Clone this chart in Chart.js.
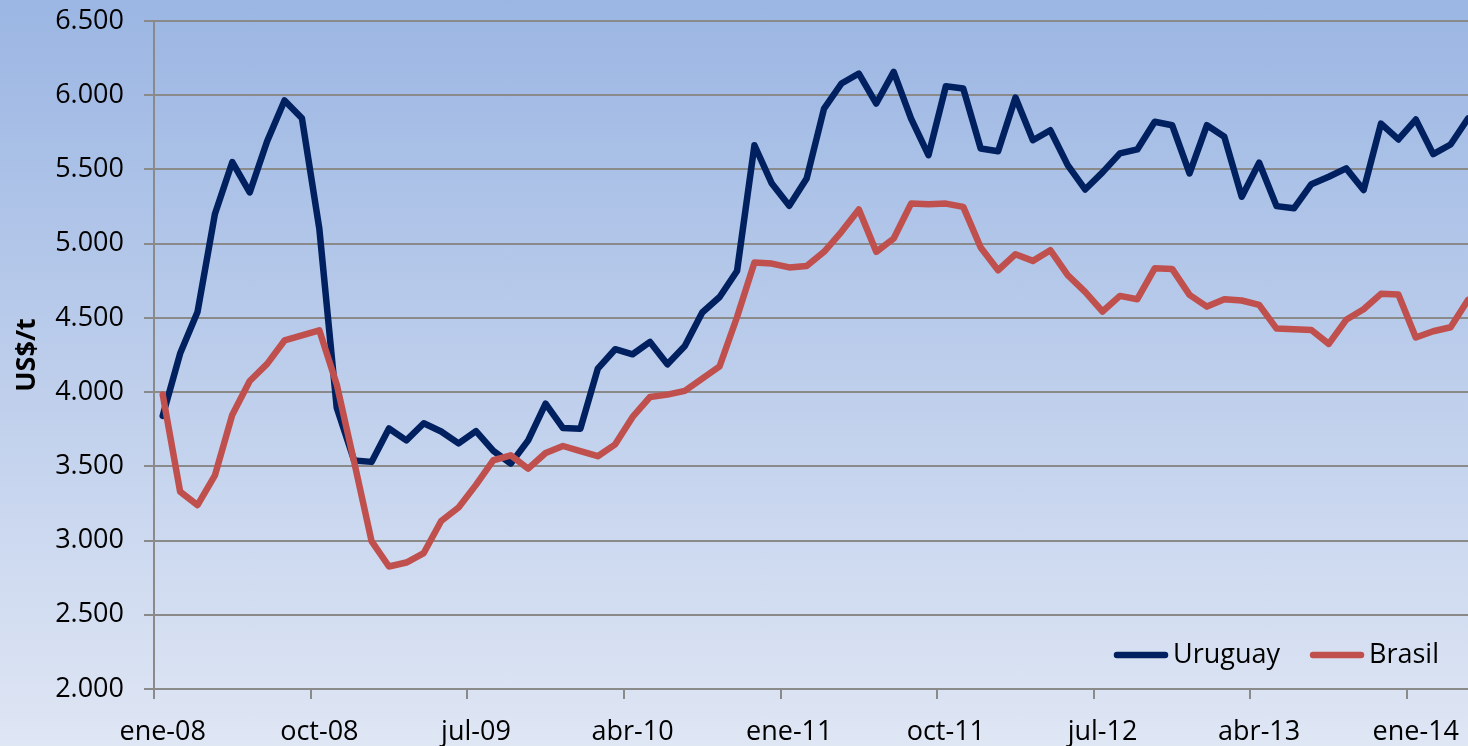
<!DOCTYPE html>
<html>
<head>
<meta charset="utf-8">
<script src="https://cdn.jsdelivr.net/npm/chart.js@4.4.1/dist/chart.umd.min.js"></script>
<style>
  html, body { margin: 0; padding: 0; overflow: hidden; }
  body { width: 1468px; height: 746px; background: linear-gradient(to bottom, #9bb6e3 0%, #dfe6f4 100%); }
  canvas { display: block; }
</style>
</head>
<body>
<canvas id="myChart" width="1468" height="746"></canvas>
<script>
// monthly categories, ene-08 .. abr-14
const months = [
  'ene-08','feb-08','mar-08','abr-08','may-08','jun-08','jul-08','ago-08','sep-08','oct-08','nov-08','dic-08',
  'ene-09','feb-09','mar-09','abr-09','may-09','jun-09','jul-09','ago-09','sep-09','oct-09','nov-09','dic-09',
  'ene-10','feb-10','mar-10','abr-10','may-10','jun-10','jul-10','ago-10','sep-10','oct-10','nov-10','dic-10',
  'ene-11','feb-11','mar-11','abr-11','may-11','jun-11','jul-11','ago-11','sep-11','oct-11','nov-11','dic-11',
  'ene-12','feb-12','mar-12','abr-12','may-12','jun-12','jul-12','ago-12','sep-12','oct-12','nov-12','dic-12',
  'ene-13','feb-13','mar-13','abr-13','may-13','jun-13','jul-13','ago-13','sep-13','oct-13','nov-13','dic-13',
  'ene-14','feb-14','mar-14','abr-14'
]

const uruguay = [
  3840, 4260, 4540, 5200, 5550, 5345, 5690, 5965, 5845, 5100, 3895, 3540,
  3530, 3755, 3675, 3790, 3735, 3655, 3737, 3604, 3518, 3675, 3922, 3758,
  3754, 4158, 4289, 4255, 4338, 4187, 4311, 4536, 4641, 4816, 5663, 5405,
  5255, 5439, 5910, 6079, 6146, 5944, 6157, 5843, 5596, 6061, 6045, 5641,
  5623, 5984, 5697, 5764, 5529, 5365, 5480, 5608, 5635, 5821, 5798, 5473,
  5798, 5720, 5316, 5545, 5253, 5238, 5401, 5451, 5507, 5361, 5809, 5702,
  5836, 5603, 5668, 5843
]

const brasil = [
  3984, 3330, 3239, 3439, 3848, 4075, 4190, 4348, 4382, 4416, 4052, 3530,
  2996, 2825, 2852, 2916, 3132, 3223, 3375, 3541, 3574, 3484, 3590, 3637,
  3603, 3568, 3648, 3833, 3967, 3983, 4008, 4091, 4174, 4506, 4873, 4866,
  4840, 4849, 4945, 5080, 5230, 4945, 5035, 5270, 5266, 5270, 5248, 4974,
  4821, 4929, 4884, 4956, 4788, 4675, 4543, 4648, 4626, 4834, 4830, 4655,
  4576, 4626, 4617, 4588, 4428, 4424, 4419, 4325, 4487, 4558, 4662, 4657,
  4368, 4410, 4437, 4621
]

// categories that get a label on the x axis
const labelledMonths = ['ene-08','oct-08','jul-09','abr-10','ene-11','oct-11','jul-12','abr-13','ene-14']

const FONT = '"Open Sans", "Noto Sans", sans-serif'
const gridColor = '#8a8a8a'

function fmt(v) {
  return String(v).replace(/\B(?=(\d{3})+(?!\d))/g, '.')
}

// legend drawn inside the plot, bottom right
const insideLegend = {
  id: 'insideLegend',
  afterDraw(chart) {
    const {ctx, chartArea} = chart
    let x = chartArea.right - 354
    const y = chartArea.bottom - 34
    ctx.save()
    ctx.font = '27px ' + FONT
    ctx.textBaseline = 'middle'
    ctx.textAlign = 'left'
    chart.data.datasets.forEach(ds => {
      ctx.strokeStyle = ds.borderColor
      ctx.lineWidth = 6.5
      ctx.lineCap = 'round'
      ctx.beginPath()
      ctx.moveTo(x + 3, y)
      ctx.lineTo(x + 51, y)
      ctx.stroke()
      ctx.fillStyle = '#000'
      ctx.fillText(ds.label, x + 59, y)
      x += 59 + ctx.measureText(ds.label).width + 30
    })
    ctx.restore()
  }
}

var ctx = document.getElementById('myChart').getContext('2d')
var chart = new Chart(ctx, {
  type: 'line',
  data: {
    datasets: [{
      label: 'Uruguay',
      data: uruguay.map((v, i) => ({x: i, y: v})),
      borderColor: '#00205f',
      borderWidth: 6.5,
      pointRadius: 0,
      tension: 0,
      borderJoinStyle: 'round',
      borderCapStyle: 'round',
      order: 1
    }, {
      label: 'Brasil',
      data: brasil.map((v, i) => ({x: i, y: v})),
      borderColor: '#c0504d',
      borderWidth: 6.5,
      pointRadius: 0,
      tension: 0,
      borderJoinStyle: 'round',
      borderCapStyle: 'round',
      order: 0
    }]
  },
  options: {
    responsive: false,
    animation: false,
    devicePixelRatio: 1,
    layout: { padding: { top: 21, right: 0, left: 0, bottom: 0 } },
    plugins: { legend: { display: false }, tooltip: { enabled: false } },
    scales: {
      x: {
        type: 'linear',
        min: -0.5,
        max: months.length - 1,
        afterBuildTicks: scale => {
          scale.ticks = labelledMonths.map(m => ({value: months.indexOf(m) - 0.5}))
        },
        afterFit: scale => {
          scale.height = 57
          scale.paddingLeft = 0
          scale.paddingRight = 0
        },
        ticks: {
          autoSkip: false,
          maxRotation: 0,
          labelOffset: 8.7,
          padding: 17,
          color: '#000',
          font: { family: FONT, size: 27 },
          callback: v => months[v + 0.5]
        },
        grid: { drawOnChartArea: false, tickLength: 10, color: gridColor, lineWidth: 2 },
        border: { color: gridColor, width: 2 }
      },
      y: {
        min: 2000,
        max: 6500,
        afterFit: scale => {
          scale.width = 154
          scale.paddingTop = 0
          scale.paddingBottom = 0
        },
        ticks: {
          stepSize: 500,
          padding: 20,
          color: '#000',
          font: { family: FONT, size: 27 },
          callback: v => fmt(v)
        },
        grid: { color: gridColor, lineWidth: 2, tickLength: 10 },
        border: { color: gridColor, width: 2 },
        title: {
          display: true,
          text: 'US$/t',
          color: '#000',
          font: { family: FONT, size: 27, weight: 'bold' },
          padding: { top: 11, bottom: 0 }
        }
      }
    }
  },
  plugins: [insideLegend]
})
</script>
</body>
</html>
